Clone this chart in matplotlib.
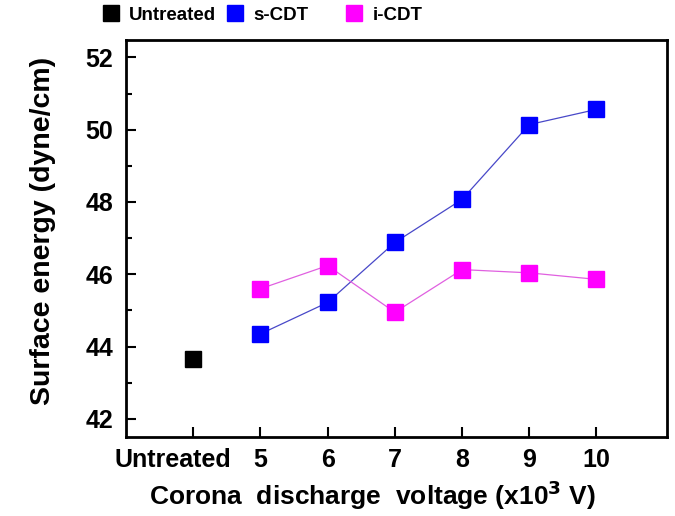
import matplotlib.pyplot as plt
import matplotlib.transforms as mtransforms
from matplotlib.ticker import MultipleLocator

plt.rcParams['font.family'] = ['Liberation Sans', 'DejaVu Sans']
plt.rcParams['font.weight'] = 'bold'

# corona discharge voltage (x10^3 V); position 4 holds the untreated sample
untreated_x = [4]
untreated_energy = [43.65]
voltages = [5, 6, 7, 8, 9, 10]
s_cdt_energy = [44.35, 45.22, 46.88, 48.07, 50.14, 50.56]
i_cdt_energy = [45.60, 46.24, 44.95, 46.13, 46.04, 45.86]
tick_pos = [4, 5, 6, 7, 8, 9, 10]
tick_labels = ['Untreated', '5', '6', '7', '8', '9', '10']

fig = plt.figure(figsize=(6.75, 5.16), dpi=100)
ax = fig.add_axes([126 / 675, 1 - 437 / 516, 541 / 675, 397 / 516])

ms = 11
ax.plot(voltages, s_cdt_energy, color='#4848c8', lw=0.9, zorder=2)
ax.plot(voltages, i_cdt_energy, color='#e060e0', lw=0.9, zorder=2)
h1, = ax.plot(untreated_x, untreated_energy, ls='none', marker='s', ms=ms,
              color='black', label='Untreated', zorder=3)
h2, = ax.plot(voltages, s_cdt_energy, ls='none', marker='s', ms=ms,
              color='#0000ff', label='s-CDT', zorder=3)
h3, = ax.plot(voltages, i_cdt_energy, ls='none', marker='s', ms=ms,
              color='#ff00ff', label='i-CDT', zorder=3)

ax.set_xlim(3, 11.05)
ax.set_ylim(41.5, 52.48)
ax.set_xticks(tick_pos)
ax.set_xticklabels(tick_labels)
ax.yaxis.set_major_locator(MultipleLocator(2))
ax.yaxis.set_minor_locator(MultipleLocator(1))

ax.tick_params(axis='both', which='both', direction='in', width=1.5,
               labelsize=18)
ax.tick_params(axis='x', pad=8)
ax.tick_params(axis='y', pad=9)
ax.tick_params(axis='both', which='major', length=7)
ax.tick_params(axis='y', which='minor', length=4)
for s in ax.spines.values():
    s.set_linewidth(2)

# nudge the long "Untreated" label left so it clears the "5"
first = ax.get_xticklabels()[0]
first.set_transform(first.get_transform() +
                    mtransforms.ScaledTranslation(-0.2, 0, fig.dpi_scale_trans))

ax.set_xlabel('Corona  discharge  voltage (x10$^{\\mathbf{3}}$ V)',
              fontsize=19, fontweight='bold')
ax.xaxis.set_label_coords(0.455, -0.105)
ax.set_ylabel('Surface energy (dyne/cm)', fontsize=20.5, fontweight='bold')
ax.yaxis.set_label_coords(-0.13, 0.52)

legend_kw = dict(loc='center left', frameon=False, fontsize=13.5,
                 handlelength=0.8, handletextpad=0.6, columnspacing=0.6,
                 borderaxespad=0, borderpad=0)
leg1 = fig.legend(handles=[h1, h2], ncol=2,
                  bbox_to_anchor=(103 / 675, 1 - 15 / 516), **legend_kw)
leg2 = fig.legend(handles=[h3], ncol=1,
                  bbox_to_anchor=(346 / 675, 1 - 15 / 516), **legend_kw)

fig.savefig('out.png', dpi=100)
